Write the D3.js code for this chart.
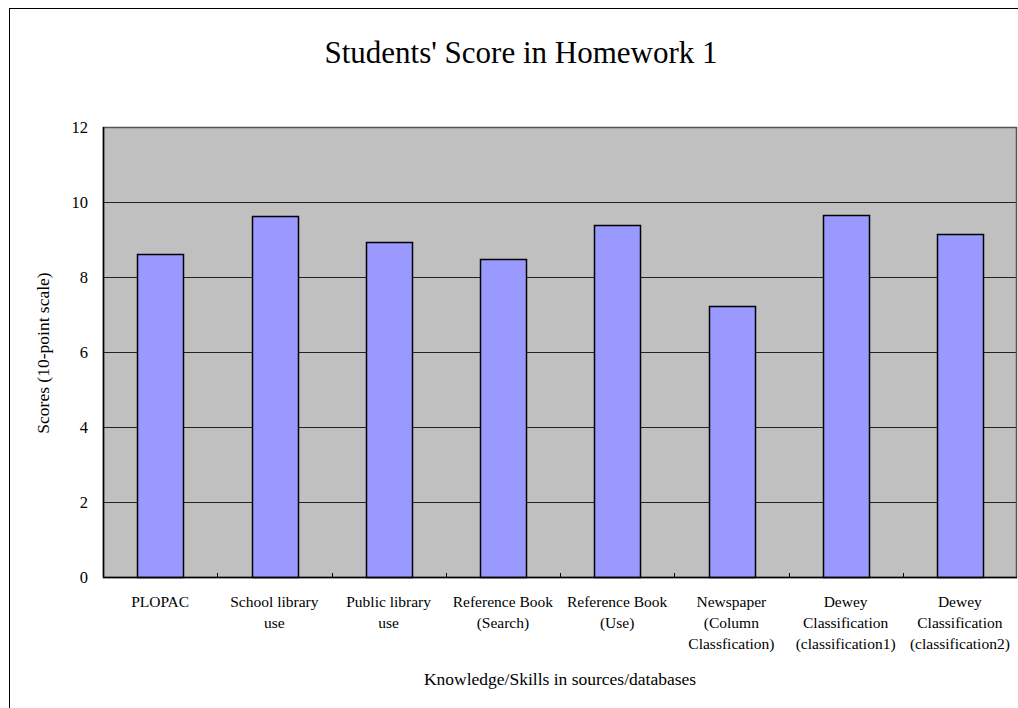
<!DOCTYPE html>
<html><head><meta charset="utf-8">
<script src="https://cdn.jsdelivr.net/npm/d3@7/dist/d3.min.js"></script>
<style>html,body{margin:0;padding:0;background:#fff;overflow:hidden}</style>
</head><body>
<svg id="chart" width="1018" height="708"></svg>
<script>
const categories = [
  ["PLOPAC"],
  ["School library", "use"],
  ["Public library", "use"],
  ["Reference Book", "(Search)"],
  ["Reference Book", "(Use)"],
  ["Newspaper", "(Column", "Classfication)"],
  ["Dewey", "Classification", "(classification1)"],
  ["Dewey", "Classification", "(classification2)"]
];
const scores = [8.62, 9.63, 8.94, 8.49, 9.39, 7.24, 9.66, 9.15];
const yTicks = [0, 2, 4, 6, 8, 10, 12];
const titleText = "Students' Score in Homework 1";
const xTitle = "Knowledge/Skills in sources/databases";
const yTitle = "Scores (10-point scale)";

const svg = d3.select("#chart");
const font = "'Liberation Serif', 'DejaVu Serif', serif";
const L = 103, R = 1017, T = 127, B = 577;

svg.append("rect").attr("x", 9.5).attr("y", 8.5).attr("width", 1100).attr("height", 800)
  .attr("fill", "#fff").attr("stroke", "#000").attr("stroke-width", 1);

const keys = categories.map((c, i) => i);
const x = d3.scaleBand().domain(keys).range([L, R]).paddingInner(0.6).paddingOuter(0.3);
const y = d3.scaleLinear().domain([0, 12]).range([B, T]);

svg.append("rect").attr("x", L).attr("y", T).attr("width", R - L).attr("height", B - T)
  .attr("fill", "#C0C0C0");

// gridlines
svg.append("g").selectAll("line").data(yTicks.filter(v => v > 0 && v < 12)).join("line")
  .attr("x1", L).attr("x2", R).attr("y1", d => Math.round(y(d)) + 0.5).attr("y2", d => Math.round(y(d)) + 0.5)
  .attr("stroke", "#222").attr("stroke-width", 1);

// plot border
svg.append("rect").attr("x", L + 0.5).attr("y", T + 0.5).attr("width", R - L - 1).attr("height", B - T)
  .attr("fill", "none").attr("stroke", "#555").attr("stroke-width", 1.5);

// bars
svg.append("g").selectAll("rect").data(scores).join("rect")
  .attr("x", (d, i) => Math.round(x(i)) + 0.5)
  .attr("y", d => Math.round(y(d)) + 0.5)
  .attr("width", Math.round(x.bandwidth()))
  .attr("height", d => y(0) - Math.round(y(d)))
  .attr("fill", "#9999FF").attr("stroke", "#000").attr("stroke-width", 1.5);

// x axis line
svg.append("line").attr("x1", L).attr("x2", R).attr("y1", B + 0.5).attr("y2", B + 0.5)
  .attr("stroke", "#000").attr("stroke-width", 1.5);
// y axis line
svg.append("line").attr("x1", L + 0.5).attr("x2", L + 0.5).attr("y1", T).attr("y2", B)
  .attr("stroke", "#000").attr("stroke-width", 1.5);

// category tick marks at boundaries
const step = x.step();
const bounds = d3.range(1, categories.length).map(i => x(i) - step * x.paddingInner() / 2);
svg.append("g").selectAll("line").data(bounds).join("line")
  .attr("x1", d => Math.round(d) + 0.5).attr("x2", d => Math.round(d) + 0.5)
  .attr("y1", B - 4).attr("y2", B).attr("stroke", "#000").attr("stroke-width", 1);

// y tick labels
svg.append("g").selectAll("text").data(yTicks).join("text")
  .attr("x", 88).attr("y", d => y(d)).attr("dy", "0.35em")
  .attr("text-anchor", "end").attr("font-family", font).attr("font-size", 16.5)
  .text(d => d);

// category labels
const cl = svg.append("g").selectAll("text").data(categories).join("text")
  .attr("text-anchor", "middle").attr("font-family", font).attr("font-size", 15.5)
  .attr("transform", (d, i) => `translate(${x(i) + x.bandwidth() / 2},607)`);
cl.selectAll("tspan").data(d => d).join("tspan")
  .attr("x", 0).attr("y", (d, j) => j * 21).text(d => d);

// title
svg.append("text").attr("x", 521).attr("y", 63).attr("text-anchor", "middle")
  .attr("font-family", font).attr("font-size", 31).text(titleText);

// axis titles
svg.append("text").attr("x", 560).attr("y", 685).attr("text-anchor", "middle")
  .attr("font-family", font).attr("font-size", 17.5).text(xTitle);
svg.append("text").attr("transform", "translate(49,353) rotate(-90)").attr("text-anchor", "middle")
  .attr("font-family", font).attr("font-size", 17.5).text(yTitle);
</script>
</body></html>
